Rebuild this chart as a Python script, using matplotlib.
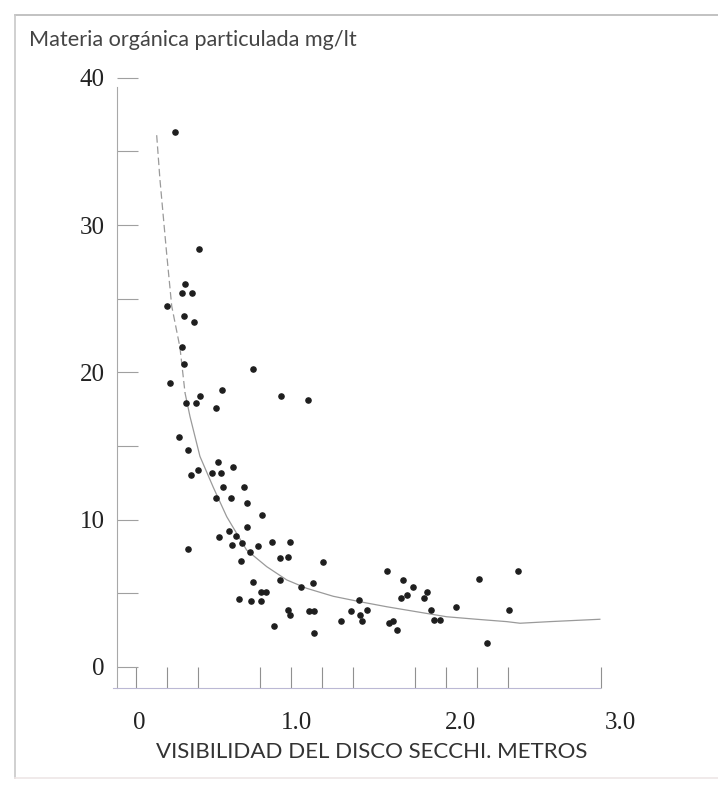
import matplotlib
matplotlib.use("Agg")
import matplotlib.pyplot as plt
from matplotlib.lines import Line2D

# data
visibility_m = [0.249, 0.406, 0.314, 0.292, 0.357, 0.195, 0.309, 0.374, 0.292, 0.309,
                0.754, 0.217, 0.410, 0.554, 0.318, 0.385, 0.511, 0.933, 1.109, 0.277,
                0.331, 0.524, 0.625, 0.400, 0.486, 0.546, 0.350, 0.561, 0.694, 0.514,
                0.610, 0.711, 0.808, 0.716, 0.600, 0.640, 0.533, 0.679, 0.615, 0.782,
                0.877, 0.991, 0.733, 0.335, 0.926, 0.976, 0.673, 1.202, 0.754, 0.926,
                1.062, 1.141, 0.804, 0.836, 0.664, 0.739, 0.804, 0.980, 0.991, 1.116,
                1.148, 1.318, 0.890, 1.148, 1.385, 1.438, 1.443, 1.454, 1.486, 1.615,
                1.632, 1.654, 1.679, 1.705, 1.722, 1.748, 1.783, 1.855, 1.873, 1.901,
                1.920, 1.959, 2.060, 2.210, 2.260, 2.404, 2.464]
organic_mg_l = [36.3, 28.4, 26.0, 25.4, 25.4, 24.5, 23.8, 23.4, 21.7, 20.6,
                20.2, 19.3, 18.4, 18.8, 17.9, 17.9, 17.6, 18.4, 18.1, 15.6,
                14.7, 13.9, 13.6, 13.4, 13.2, 13.2, 13.0, 12.2, 12.2, 11.5,
                11.5, 11.1, 10.3, 9.5, 9.2, 8.9, 8.8, 8.4, 8.3, 8.2,
                8.5, 8.5, 7.8, 8.0, 7.4, 7.45, 7.2, 7.1, 5.8, 5.9,
                5.4, 5.7, 5.1, 5.1, 4.6, 4.5, 4.5, 3.9, 3.5, 3.8,
                3.8, 3.1, 2.8, 2.3, 3.8, 4.55, 3.5, 3.1, 3.9, 6.5,
                3.0, 3.1, 2.5, 4.7, 5.9, 4.9, 5.45, 4.7, 5.1, 3.9,
                3.2, 3.2, 4.1, 5.95, 1.65, 3.9, 6.5]

# fitted curve (dashed upper part, solid lower part)
curve_top_x = [0.131, 0.152, 0.195, 0.228, 0.281, 0.314]
curve_top_y = [36.1, 33.1, 28.1, 24.5, 21.7, 18.6]
curve_x = [0.314, 0.346, 0.410, 0.496, 0.583, 0.711, 0.841, 0.970, 1.099, 1.270,
           1.443, 1.615, 1.808, 2.002, 2.195, 2.389, 2.475, 2.668, 2.99]
curve_y = [18.6, 17.0, 14.3, 12.2, 10.2, 7.94, 6.81, 5.91, 5.34, 4.80,
           4.43, 4.09, 3.75, 3.41, 3.24, 3.08, 2.97, 3.08, 3.24]

y_major = [0, 10, 20, 30, 40]
y_minor = [5, 15, 25, 35]
x_marks = [0, 0.2, 0.4, 0.8, 1.0, 1.2, 1.4, 1.8, 2.0, 2.2, 2.4, 3.0]
x_label_pos = [0.017, 1.034, 2.088, 3.12]
x_label_txt = ["0", "1.0", "2.0", "3.0"]

W, H = 718, 787
fig = plt.figure(figsize=(W / 100, H / 100), dpi=100)
fig.patch.set_facecolor("white")

ax = fig.add_axes([117 / W, 1 - 688 / H, (650 - 117) / W, (688 - 77) / H])
ax.set_xlim(-0.125, 3.3135)
ax.set_ylim(-1.426, 40.05)

ax.plot(curve_top_x, curve_top_y, color="#9a9a9a", lw=0.9, ls=(0, (6, 3)))
ax.plot(curve_x, curve_y, color="#9a9a9a", lw=0.9)
ax.scatter(visibility_m, organic_mg_l, s=14, color="#1e1e1e", zorder=3)

for s in ["top", "right"]:
    ax.spines[s].set_visible(False)
ax.spines["left"].set_color("#a8a8a8")
ax.spines["left"].set_bounds(-1.426, 39.4)
ax.spines["bottom"].set_color("#bbb8d4")
ax.spines["bottom"].set_bounds(-0.15, 2.99)

serif = "Liberation Serif"
ax.set_yticks(y_major)
ax.set_yticklabels([str(v) for v in y_major], fontfamily=serif, fontsize=18, color="#222222")
ax.set_yticks(y_minor, minor=True)
ax.tick_params(axis="y", which="both", direction="in", length=15, width=0.8,
               color="#a0a0a0", pad=9)

ax.set_xticks(x_label_pos)
ax.set_xticklabels(x_label_txt, fontfamily=serif, fontsize=18, color="#222222")
ax.tick_params(axis="x", which="major", length=0, pad=17)
ax.set_xticks(x_marks, minor=True)
ax.tick_params(axis="x", which="minor", direction="in", length=15, width=0.8,
               color="#909090")

fig.text(29 / W, 1 - 40 / H, "Materia orgánica particulada mg/lt", fontfamily="Lato",
         fontsize=15.6, color="#444444", ha="left", va="center")
fig.text(372 / W, 1 - 752 / H, "VISIBILIDAD DEL DISCO SECCHI. METROS", fontfamily="Lato",
         fontsize=16, color="#333333", ha="center", va="center")

# scanned page frame
fig.add_artist(Line2D([15 / W, 1], [1 - 15 / H, 1 - 15 / H], color="#b8b8b8", lw=1.2))
fig.add_artist(Line2D([15 / W, 15 / W], [1 - 15 / H, 1 - 778 / H], color="#c8c8c8", lw=1.2))
fig.add_artist(Line2D([15 / W, 1], [1 - 778 / H, 1 - 778 / H], color="#eee6e6", lw=1.2))

plt.savefig("out.png", dpi=100)
